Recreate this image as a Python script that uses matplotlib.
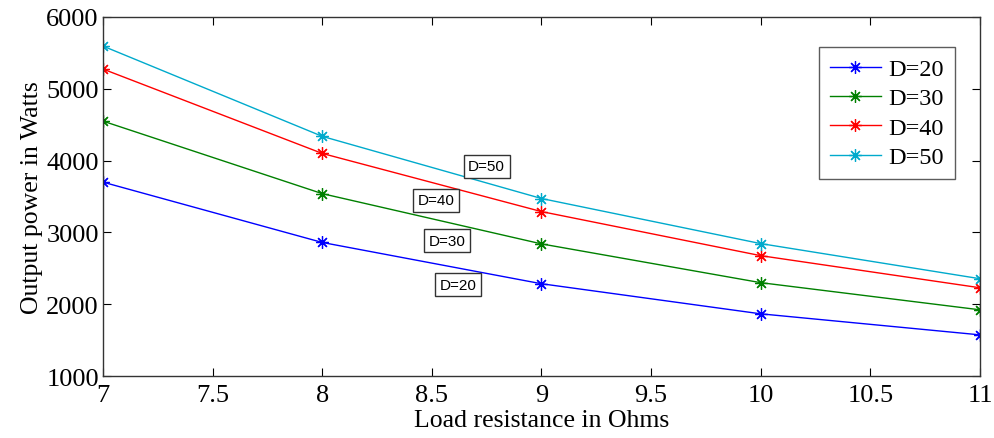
import matplotlib
matplotlib.use("Agg")
import matplotlib.pyplot as plt

# Load resistance (Ohms) and output power (W) for each duty value
resistance = [7, 8, 9, 10, 11]
p_d20 = [3700, 2860, 2285, 1866, 1573]
p_d30 = [4550, 3540, 2840, 2300, 1922]
p_d40 = [5275, 4100, 3290, 2676, 2229]
p_d50 = [5595, 4338, 3472, 2844, 2355]

labels = ["D=20", "D=30", "D=40", "D=50"]
colors = ["#0000ff", "#008000", "#ff0000", "#00aacc"]

plt.rcParams['font.family'] = ['Liberation Serif', 'DejaVu Serif']

fig = plt.figure(figsize=(9.94, 4.39), dpi=100)
ax = fig.add_axes([0.1036, 0.1412, 0.8823, 0.8178])

for ys, lab, c in zip([p_d20, p_d30, p_d40, p_d50], labels, colors):
    ax.plot(resistance, ys, color=c, lw=1.0, marker=(8, 2, 0), markersize=9,
            markeredgewidth=0.9, label=lab)

ax.set_xlim(7, 11)
ax.set_ylim(1000, 6000)
ax.set_xticks([7, 7.5, 8, 8.5, 9, 9.5, 10, 10.5, 11])
ax.set_xticklabels(["7", "7.5", "8", "8.5", "9", "9.5", "10", "10.5", "11"])
ax.set_yticks([1000, 2000, 3000, 4000, 5000, 6000])
ax.tick_params(direction='in', top=True, right=True, length=6, labelsize=19,
               width=0.8)
ax.tick_params(axis='x', pad=6)
ax.tick_params(axis='y', pad=3)
for s in ax.spines.values():
    s.set_linewidth(1.0)
    s.set_color('#333333')

ax.set_xlabel("Load resistance in Ohms", fontsize=18.5, labelpad=2)
ax.set_ylabel("Output power in Watts", fontsize=18.5, labelpad=2)

leg = ax.legend(loc='upper right', bbox_to_anchor=(0.971, 0.916), borderaxespad=0,
                fontsize=17.5, frameon=True, fancybox=False, handlelength=2.1,
                borderpad=0.45, labelspacing=0.3, handletextpad=0.3)
leg.get_frame().set_edgecolor('#333333')
leg.get_frame().set_linewidth(1.0)

# curve tags inside the plot
tags = [("D=50", 8.75, 3920), ("D=40", 8.52, 3445), ("D=30", 8.57, 2885), ("D=20", 8.62, 2270)]
for txt, x, y in tags:
    ax.text(x, y, txt, fontsize=11, family='Liberation Sans', ha='center', va='center',
            bbox=dict(boxstyle='square,pad=0.3', fc='white', ec='#333333', lw=1.0))

fig.savefig("out.png", dpi=100)
